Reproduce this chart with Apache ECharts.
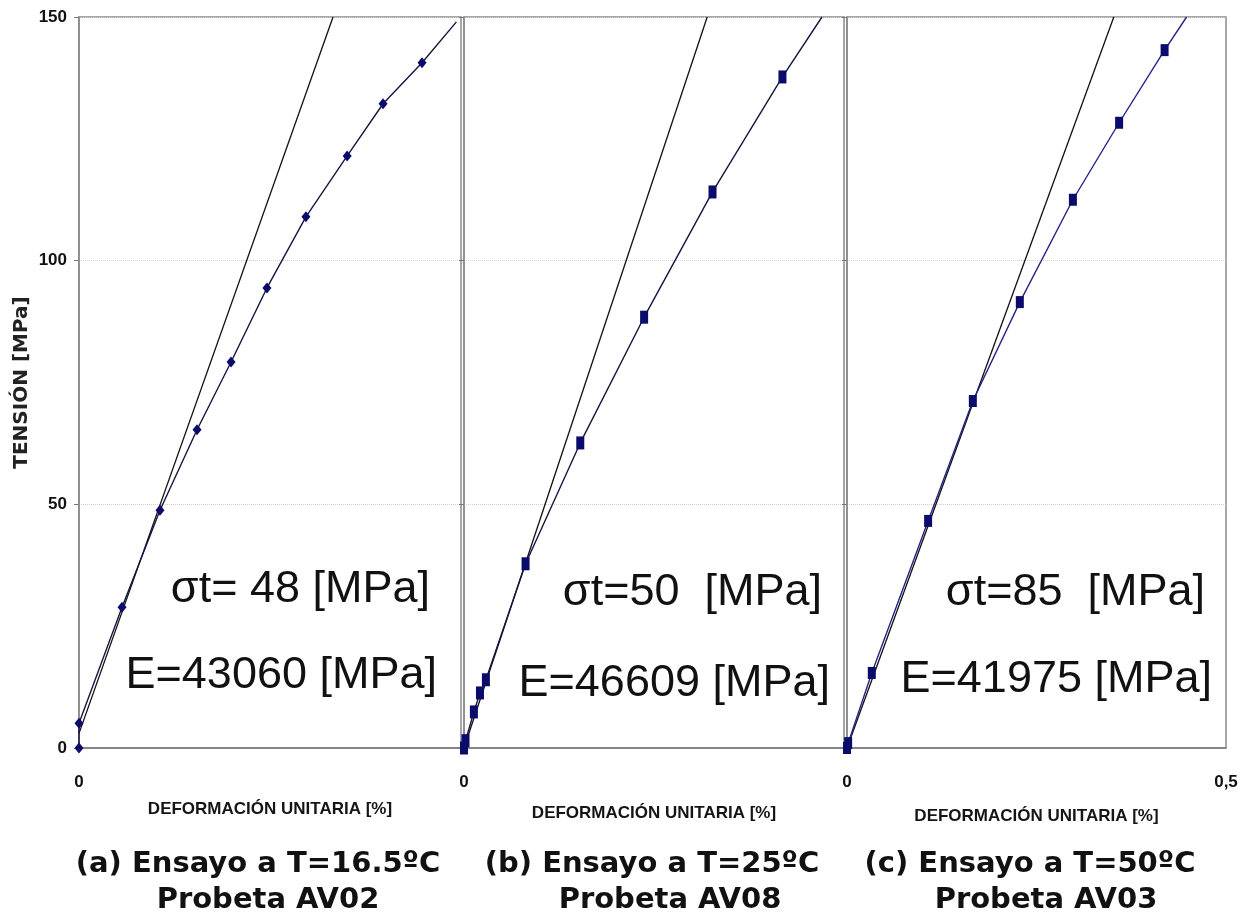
<!DOCTYPE html>
<html>
<head>
<meta charset="utf-8">
<script src="https://cdn.jsdelivr.net/npm/echarts@6/dist/echarts.min.js"></script>
<style>
html,body{margin:0;padding:0;background:#fff;}
#chart{width:1249px;height:921px;}
</style>
</head>
<body>
<div id="chart"></div>
<script>
// ---- data (strain in %, stress in MPa) ----
const yTicks = [0, 50, 100, 150];
const xTicks = [0, 0.5];

const strainA = [0, 0, 0.0563, 0.106, 0.1545, 0.199, 0.246, 0.297, 0.351, 0.398, 0.449, 0.494];
const stressA = [0, 5.1, 28.9, 48.8, 65.3, 79.2, 94.4, 109, 121.5, 132.2, 140.6, 149];
const tanStrainA = [0, 0.3325];
const tanStressA = [3, 150];

const strainB = [0, 0.002, 0.013, 0.021, 0.0288, 0.081, 0.153, 0.237, 0.327, 0.419, 0.471];
const stressB = [0, 1.5, 7.4, 11.3, 14, 37.8, 62.6, 88.4, 114.1, 137.7, 150];
const tanStrainB = [0, 0.32];
const tanStressB = [0, 150];

const strainC = [0, 0.0015, 0.0327, 0.107, 0.166, 0.228, 0.298, 0.359, 0.419, 0.448];
const stressC = [0, 1, 15.4, 46.6, 71.2, 91.5, 112.5, 128.3, 143.2, 150];
const tanStrainC = [0, 0.352];
const tanStressC = [0, 150];

const sigmaLabels = ['σt= 48 [MPa]', 'σt=50  [MPa]', 'σt=85  [MPa]'];
const eLabels = ['E=43060 [MPa]', 'E=46609 [MPa]', 'E=41975 [MPa]'];
const captions1 = ['(a) Ensayo a T=16.5ºC', '(b) Ensayo a T=25ºC', '(c) Ensayo a T=50ºC'];
const captions2 = ['Probeta AV02', 'Probeta AV08', 'Probeta AV03'];
const xName = 'DEFORMACIÓN UNITARIA [%]';
const yName = 'TENSIÓN [MPa]';

// ---- build ----
function pairs(xs, ys, lastNoSymbol) {
  return xs.map((x, i) => {
    if (lastNoSymbol && i === xs.length - 1) return { value: [x, ys[i]], symbol: 'none' };
    return [x, ys[i]];
  });
}

const tickFont = "'Liberation Sans Narrow', 'Liberation Sans', Arial, sans-serif";
const grids = [
  { left: 79, width: 382, top: 17, height: 731 },
  { left: 464, width: 380, top: 17, height: 731 },
  { left: 847, width: 379, top: 17, height: 731 }
].map(g => Object.assign(g, { show: true, borderColor: '#8a8a8a', borderWidth: 1.5, backgroundColor: 'transparent' }));

const nameGaps = [53, 57, 60];
const xAxes = [0, 1, 2].map(i => ({
  type: 'value', gridIndex: i, min: xTicks[0], max: xTicks[1], interval: xTicks[1] - xTicks[0],
  name: xName, nameLocation: 'middle', nameGap: nameGaps[i],
  nameTextStyle: { fontFamily: "'Liberation Sans', Arial, sans-serif", fontWeight: 'bold', fontSize: 17, color: '#151515' },
  axisLine: { show: true, lineStyle: { color: '#7a7a7a', width: 1.5 } },
  axisTick: { show: false },
  splitLine: { show: false },
  axisLabel: {
    margin: 26, color: '#111', fontFamily: tickFont, fontWeight: 'bold', fontSize: 17,
    formatter: v => (i < 2 && v !== 0) ? '' : String(v).replace('.', ',')
  }
}));

const yAxes = [0, 1, 2].map(i => ({
  type: 'value', gridIndex: i, min: yTicks[0], max: yTicks[yTicks.length - 1], interval: yTicks[1] - yTicks[0],
  name: i === 0 ? yName : '', nameLocation: 'middle', nameGap: 47, nameRotate: 90,
  nameTextStyle: { fontFamily: "'DejaVu Sans', sans-serif", fontWeight: 'bold', fontSize: 20, color: '#222' },
  axisLine: { show: true, lineStyle: { color: '#8a8a8a', width: 1.5 } },
  axisTick: { show: true, length: 5, lineStyle: { color: '#777' } },
  splitLine: { show: true, lineStyle: { color: '#cfcfcf', type: 'dotted', width: 1 } },
  axisLabel: { show: i === 0, margin: 12, color: '#111', fontFamily: tickFont, fontWeight: 'bold', fontSize: 17 }
}));

const markerColor = '#0b0b6b';
const dataSets = [
  { d: pairs(strainA, stressA, true), t: pairs(tanStrainA, tanStressA), sym: 'diamond', size: [9, 11], line: '#15153f' },
  { d: pairs(strainB, stressB, true), t: pairs(tanStrainB, tanStressB), sym: 'rect', size: [8, 13], line: '#15153f' },
  { d: pairs(strainC, stressC, true), t: pairs(tanStrainC, tanStressC), sym: 'rect', size: [8, 12], line: '#23238a' }
];
const series = [];
dataSets.forEach((s, i) => {
  series.push({
    type: 'line', xAxisIndex: i, yAxisIndex: i, data: s.t, symbol: 'none', silent: true,
    lineStyle: { color: '#111', width: 1.3 }, z: 2
  });
  series.push({
    type: 'line', xAxisIndex: i, yAxisIndex: i, data: s.d, symbol: s.sym, symbolSize: s.size,
    showAllSymbol: true, itemStyle: { color: markerColor }, silent: true,
    lineStyle: { color: s.line, width: 1.4 }, z: 3
  });
});

const annFont = "'Liberation Sans', Arial, sans-serif";
const capFont = "'DejaVu Sans', sans-serif";
const sigmaPos = [[430, 590], [822, 593], [1205, 593]];
const ePos = [[437, 676], [830, 684], [1212, 680]];
const cap1X = [258, 652, 1030];
const cap2X = [268, 670, 1046];
const graphic = [];
for (let i = 0; i < 3; i++) {
  graphic.push({ type: 'text', x: sigmaPos[i][0], y: sigmaPos[i][1], z: 10,
    style: { text: sigmaLabels[i], textAlign: 'right', textVerticalAlign: 'middle', font: '45px ' + annFont, fill: '#111' } });
  graphic.push({ type: 'text', x: ePos[i][0], y: ePos[i][1], z: 10,
    style: { text: eLabels[i], textAlign: 'right', textVerticalAlign: 'middle', font: '45px ' + annFont, fill: '#111' } });
  graphic.push({ type: 'text', x: cap1X[i], y: 864, z: 10,
    style: { text: captions1[i], textAlign: 'center', textVerticalAlign: 'middle', font: 'bold 29px ' + capFont, fill: '#111' } });
  graphic.push({ type: 'text', x: cap2X[i], y: 900, z: 10,
    style: { text: captions2[i], textAlign: 'center', textVerticalAlign: 'middle', font: 'bold 29px ' + capFont, fill: '#111' } });
}

const chart = echarts.init(document.getElementById('chart'), null, { renderer: 'canvas' });
chart.setOption({
  animation: false,
  backgroundColor: '#ffffff',
  grid: grids,
  xAxis: xAxes,
  yAxis: yAxes,
  series: series,
  graphic: graphic
});
</script>
</body>
</html>
